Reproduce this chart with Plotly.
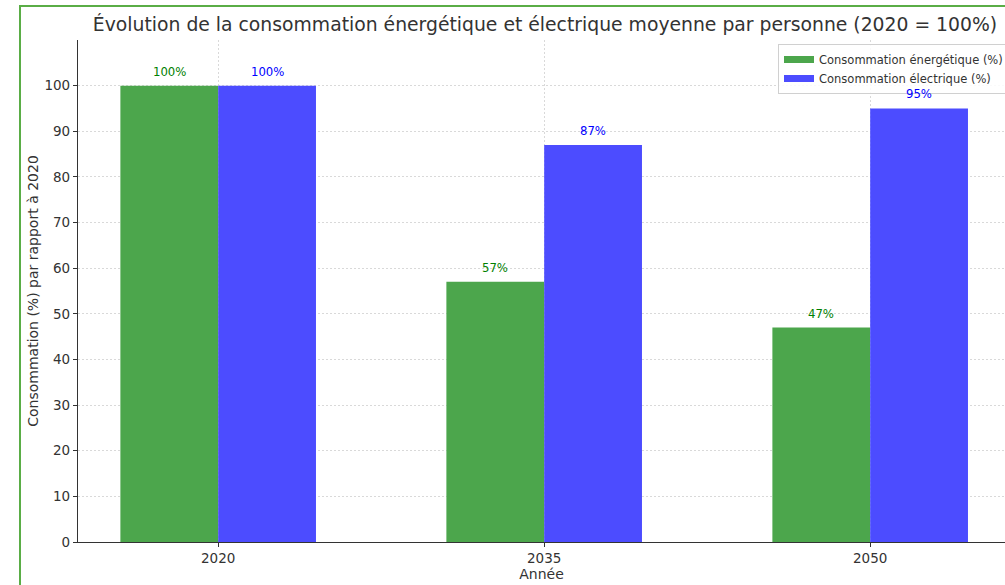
import plotly.graph_objects as go

years = ["2020", "2035", "2050"]
energie = [100, 57, 47]
electrique = [100, 87, 95]
labels_energie = ["100%", "57%", "47%"]
labels_electrique = ["100%", "87%", "95%"]
yticks = [0, 10, 20, 30, 40, 50, 60, 70, 80, 90, 100]
serie_noms = ["Consommation énergétique (%)", "Consommation électrique (%)"]

W, H = 1005, 585
L, R, T, B = 78, 0, 40, 43
pw = W - L - R
ph = H - T - B

xpos = list(range(len(years)))
bw = 0.3
c_green = "rgb(76,166,76)"
c_blue = "rgb(76,76,255)"

fig = go.Figure()
fig.add_trace(go.Bar(
    x=xpos, y=energie, width=bw, offset=-bw,
    marker=dict(color=c_green, line=dict(width=0)),
    name=serie_noms[0], showlegend=False,
))
fig.add_trace(go.Bar(
    x=xpos, y=electrique, width=bw, offset=0,
    marker=dict(color=c_blue, line=dict(width=0)),
    name=serie_noms[1], showlegend=False,
))
# legend entries drawn as wide patches
fig.add_trace(go.Scatter(x=[None], y=[None], mode="lines", name=serie_noms[0],
                         line=dict(color=c_green, width=7)))
fig.add_trace(go.Scatter(x=[None], y=[None], mode="lines", name=serie_noms[1],
                         line=dict(color=c_blue, width=7)))

for i in xpos:
    fig.add_annotation(x=i - bw / 2, y=energie[i], text=labels_energie[i],
                       showarrow=False, yshift=14, xref="x", yref="y",
                       font=dict(size=11.7, color="green", family="DejaVu Sans"))
    fig.add_annotation(x=i + bw / 2, y=electrique[i], text=labels_electrique[i],
                       showarrow=False, yshift=14, xref="x", yref="y",
                       font=dict(size=11.7, color="blue", family="DejaVu Sans"))

# x range: matplotlib-like margins, right side clipped by the image edge
x0 = -0.43
x1 = x0 + pw / 326.0

grid = dict(showgrid=True, gridcolor="#d9d9d9", griddash="2px,2px", gridwidth=0.8)

fig.update_layout(
    width=W, height=H,
    margin=dict(l=L, r=R, t=T, b=B, pad=0, autoexpand=False),
    paper_bgcolor="white", plot_bgcolor="white",
    barmode="overlay",
    font=dict(family="DejaVu Sans", color="#333333", size=13.5),
    title=dict(text="Évolution de la consommation énergétique et électrique moyenne par personne (2020 = 100%)",
               x=545 / W, xanchor="center", y=1 - 24 / H, yanchor="middle",
               font=dict(size=18.8, color="#333333")),
    legend=dict(x=(778 - L) / pw, y=(H - B - 44) / ph, xanchor="left", yanchor="top",
                bgcolor="rgba(255,255,255,0.85)", bordercolor="#d0d0d0", borderwidth=1,
                font=dict(size=11.5, color="#333333"), itemwidth=30,
                tracegroupgap=0),
    xaxis=dict(range=[x0, x1], tickvals=xpos, ticktext=years,
               showline=True, linecolor="#333333", linewidth=1.2,
               ticks="outside", ticklen=4, tickcolor="#333333",
               zeroline=False, title=dict(text="Année", standoff=2, font=dict(size=14)),
               **grid),
    yaxis=dict(range=[0, 110], tickvals=yticks,
               showline=True, linecolor="#333333", linewidth=1.2,
               ticks="outside", ticklen=4, tickcolor="#333333",
               zeroline=False,
               title=dict(text="Consommation (%) par rapport à 2020", standoff=2, font=dict(size=14)),
               **grid),
)

# green frame of the screenshot
fig.add_shape(type="rect", xref="paper", yref="paper",
              x0=(20 - L) / pw, x1=1.2, y0=-0.3, y1=(H - B - 6) / ph,
              line=dict(color="#5aad46", width=2), fillcolor="rgba(0,0,0,0)", layer="above")

fig.write_html("out.html")
